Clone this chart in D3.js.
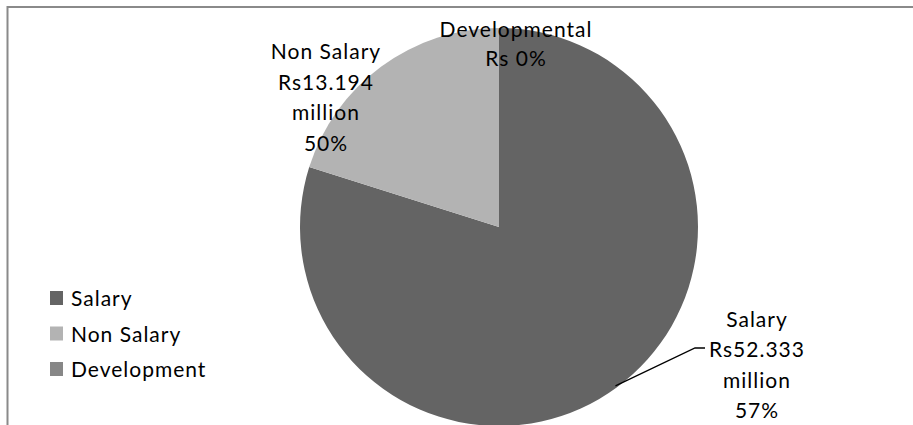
<!DOCTYPE html>
<html>
<head>
<meta charset="utf-8">
<script src="https://cdn.jsdelivr.net/npm/d3@7"></script>
<style>
  body { margin: 0; background: #fff; }
  text { font-family: Lato, "Open Sans", sans-serif; fill: #000; }
</style>
</head>
<body>
<div id="pie_div"></div>
<script>
// data
var categories = ["Salary", "Non Salary", "Development"];
var amounts = [52.333, 13.194, 0];           // Rs million
var sliceLabels = [
  ["Salary", "Rs52.333", "million", "57%"],
  ["Non Salary", "Rs13.194", "million", "50%"],
  ["Developmental", "Rs 0%"]
];

// globals
var width = 913;
var height = 425;
var cx = 499, cy = 227;
var radius = 199;
var colors = ["#646464", "#b3b3b3", "#878787"];

// where each label block sits (centre x, first baseline, line gap)
var labelPos = [
  { x: 757, y: 327, gap: 30.4 },
  { x: 326, y: 59, gap: 30.6 },
  { x: 516, y: 37, gap: 28.5 }
];

var svg = d3.select("#pie_div")
    .append("svg")
    .attr("width", width)
    .attr("height", height);

// chart frame
svg.append("rect")
    .attr("x", 7.5)
    .attr("y", 7)
    .attr("width", 1200)
    .attr("height", 1200)
    .attr("fill", "none")
    .attr("stroke", "#8a8a8a")
    .attr("stroke-width", 2);

var g = svg.append("g")
    .attr("transform", "translate(" + cx + "," + cy + ")");

var pie = d3.pie()
    .sort(null)
    .value(function(d) { return d; });

var arcs = pie(amounts);

var paths = d3.arc()
    .outerRadius(radius)
    .innerRadius(0);

g.selectAll(".slice")
    .data(arcs)
    .enter()
    .append("path")
    .attr("class", "slice")
    .attr("d", paths)
    .attr("fill", function(d, i) { return colors[i]; });

// leader line for the salary label, from the slice's outer mid point
var edge = d3.arc().outerRadius(radius - 2).innerRadius(radius - 2);
var sal = arcs[0];
var p0 = edge.centroid(sal);
var elbow = [labelPos[0].x - 62 - cx, 348 - cy];
g.append("polyline")
    .attr("points", [p0, elbow, [elbow[0] + 10, elbow[1]]].map(function(p) { return p.join(","); }).join(" "))
    .attr("fill", "none")
    .attr("stroke", "#000")
    .attr("stroke-width", 1.3);

// slice labels
sliceLabels.forEach(function(lines, i) {
  var pos = labelPos[i];
  var t = svg.append("text")
      .attr("text-anchor", "middle")
      .style("font-size", "21px")
      .style("letter-spacing", "1px");
  lines.forEach(function(s, j) {
    t.append("tspan")
        .attr("x", pos.x)
        .attr("y", pos.y + j * pos.gap)
        .text(s);
  });
});

// legend
var legend = svg.append("g")
    .selectAll("g")
    .data(categories)
    .enter()
    .append("g")
    .attr("transform", function(d, i) { return "translate(50," + (291 + i * 35.5) + ")"; });

legend.append("rect")
    .attr("width", 13)
    .attr("height", 14)
    .attr("fill", function(d, i) { return colors[i]; });

legend.append("text")
    .attr("x", 21)
    .attr("y", 15)
    .style("font-size", "21px")
    .style("letter-spacing", "1px")
    .text(function(d) { return d; });
</script>
</body>
</html>
